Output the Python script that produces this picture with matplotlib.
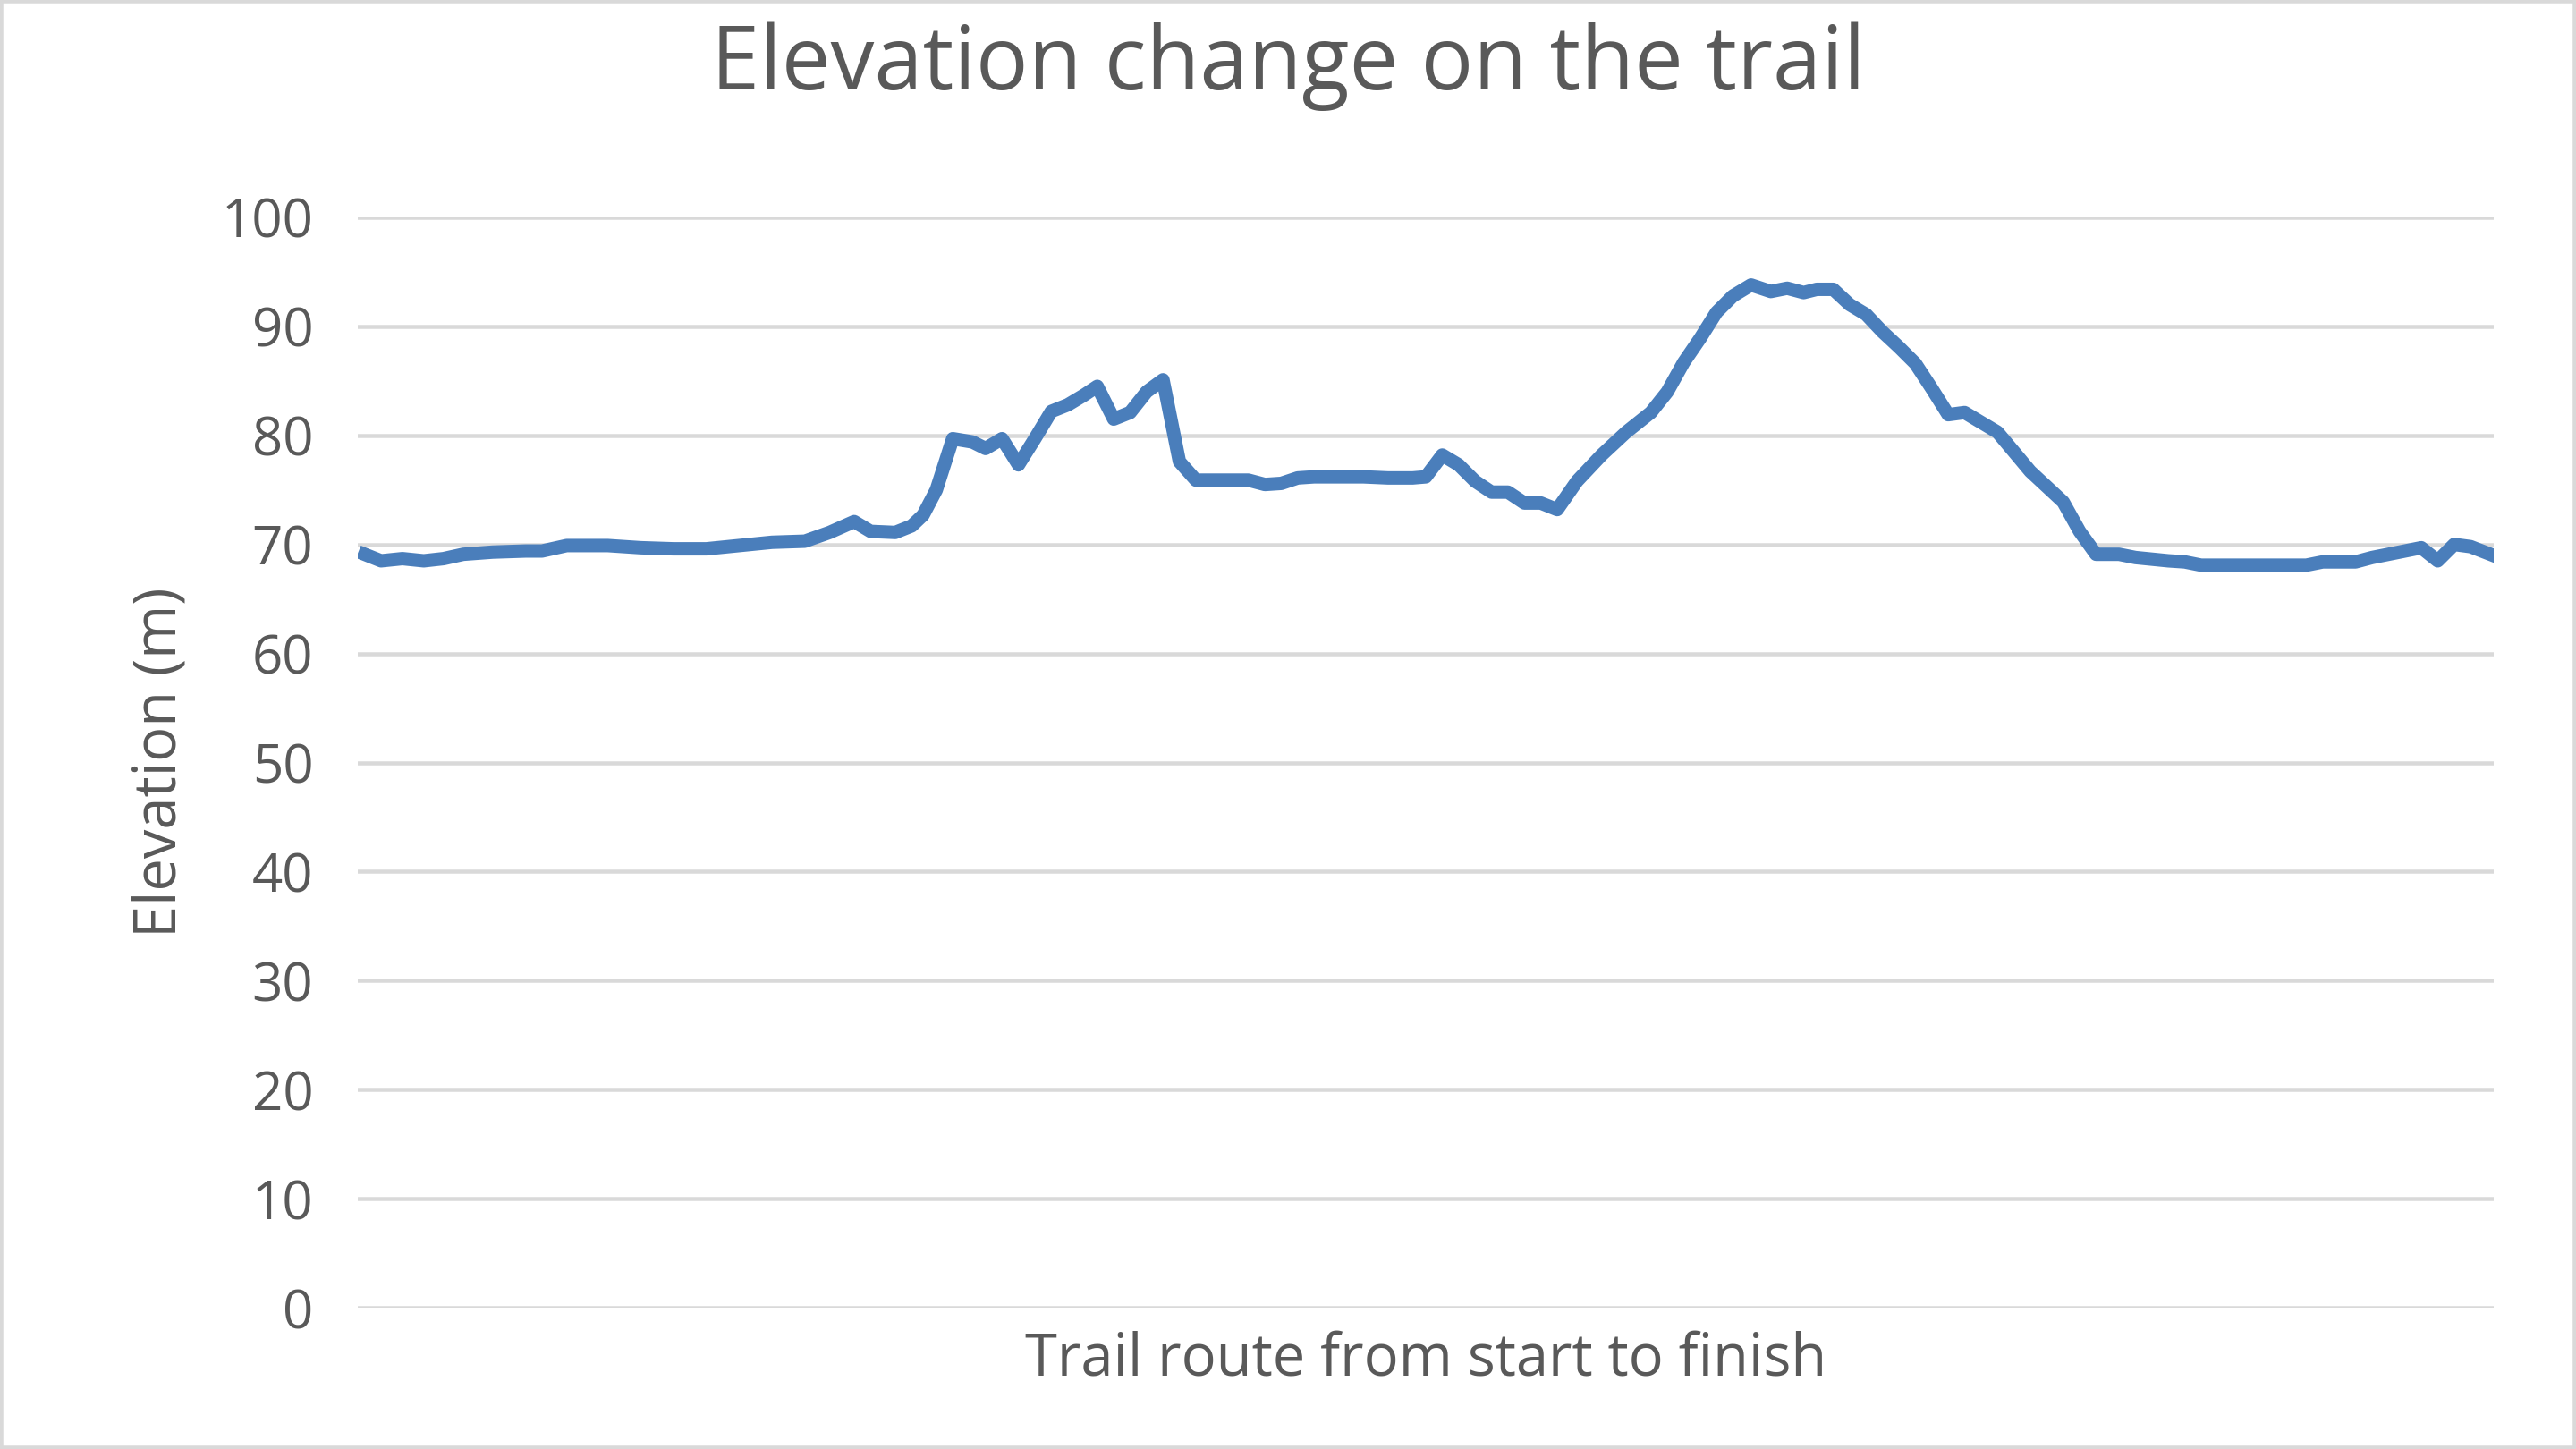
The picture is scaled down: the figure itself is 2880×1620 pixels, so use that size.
import matplotlib
matplotlib.use("Agg")
import matplotlib.pyplot as plt

distance = [4, 14, 27, 40, 52, 64, 82, 102, 112, 127, 152, 172, 192, 212, 232, 252, 272,
            287, 302, 312, 327, 337, 344, 352, 362, 374, 382, 392, 402, 412, 422, 432,
            442, 450, 460, 470, 480, 490, 500, 510, 522, 542, 552, 562, 572, 582, 597,
            612, 627, 642, 650, 660, 670, 680, 690, 700, 710, 720, 730, 742, 757, 772,
            787, 797, 807, 817, 827, 837, 848, 860, 870, 880, 888, 898, 908, 918, 928,
            938, 948, 958, 968, 978, 988, 998, 1008, 1018, 1028, 1038, 1048, 1058, 1072,
            1082, 1102, 1112, 1122, 1142, 1162, 1186, 1196, 1216, 1226, 1246, 1256, 1266,
            1276, 1286, 1298]
elevation = [69.1, 68.5, 68.7, 68.5, 68.7, 69.1, 69.3, 69.4, 69.4, 69.9, 69.9, 69.7,
             69.6, 69.6, 69.9, 70.2, 70.3, 71.1, 72.1, 71.2, 71.1, 71.7, 72.7, 75.0,
             79.7, 79.4, 78.8, 79.7, 77.3, 79.7, 82.2, 82.8, 83.7, 84.5, 81.5, 82.1,
             84.0, 85.1, 77.6, 75.9, 75.9, 75.9, 75.5, 75.6, 76.1, 76.2, 76.2, 76.2,
             76.1, 76.1, 76.2, 78.2, 77.3, 75.8, 74.8, 74.8, 73.8, 73.8, 73.2, 75.8,
             78.2, 80.3, 82.1, 84.0, 86.7, 88.9, 91.3, 92.8, 93.8, 93.2, 93.5, 93.1,
             93.4, 93.4, 92.0, 91.1, 89.5, 88.1, 86.6, 84.3, 81.9, 82.1, 81.2, 80.3,
             78.5, 76.7, 75.3, 73.9, 71.2, 69.1, 69.1, 68.8, 68.5, 68.4, 68.1, 68.1,
             68.1, 68.1, 68.4, 68.4, 68.8, 69.4, 69.7, 68.5, 70.0, 69.8, 69.1]
yticks = [0, 10, 20, 30, 40, 50, 60, 70, 80, 90, 100]

plt.rcParams['font.family'] = ['Open Sans', 'DejaVu Sans']
fig = plt.figure(figsize=(16, 9), dpi=180)
ax = fig.add_axes([0.139, 0.0975, 0.829, 0.7525])
ax.plot(distance, elevation, color='#4a7ebb', lw=6, solid_joinstyle='round', zorder=3)
ax.set_xlim(0, 1300)
ax.set_ylim(0, 100)
ax.set_yticks(yticks)
ax.yaxis.grid(True, color='#d9d9d9', lw=1.8)
ax.set_xticks([])
for s in ax.spines.values():
    s.set_visible(False)
ax.tick_params(axis='y', length=0, labelsize=24, labelcolor='#595959', pad=20)
ax.set_ylabel('Elevation (m)', fontsize=26, color='#595959', labelpad=14)
ax.set_xlabel('Trail route from start to finish', fontsize=26, color='#595959', labelpad=10)
fig.suptitle('Elevation change on the trail', fontsize=39, color='#595959', y=0.985)
fig.patches.append(plt.Rectangle((0, 0), 1, 1, transform=fig.transFigure, fill=False,
                                 edgecolor='#d9d9d9', lw=3))
fig.savefig('out.png', dpi=180)
